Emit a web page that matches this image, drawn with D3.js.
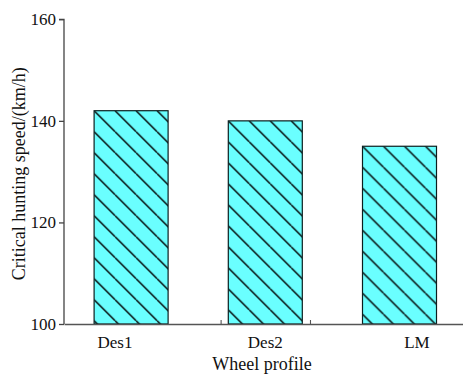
<!DOCTYPE html>
<html>
<head>
<meta charset="utf-8">
<script src="https://cdn.jsdelivr.net/npm/d3@7"></script>
<style>
  html, body { margin: 0; padding: 0; background: #fff; }
  svg { display: block; }
</style>
</head>
<body>
<svg id="chart" width="463" height="374"></svg>
<script>
// Wheel profiles and their critical hunting speed (km/h)
const profiles = ["Des1", "Des2", "LM"];
const speeds = [142, 140, 135];
// category axis: profile slots 1..3, label anchors and tick marks
const slots = [1, 2, 3];
const labelAnchors = [0.88, 2.0, 3.13];
const xTickValues = [1.667, 2.333];
const yTickValues = [100, 120, 140, 160];

(function () {
  const FONT = "'Liberation Serif', 'Times New Roman', serif";
  const svg = d3.select("#chart");
  const plotL = 64, plotR = 466.6, plotT = 19.3, plotB = 324;

  const x = d3.scaleLinear().domain([0.5, 3.5]).range([plotL, plotR]);
  const y = d3.scaleLinear().domain([100, 160]).range([plotB, plotT]);
  const barW = 74;

  const defs = svg.append("defs");
  const step = 21;

  const data = profiles.map((p, i) => ({ name: p, value: speeds[i], slot: slots[i], label: labelAnchors[i] }));

  // one hatch pattern per bar, anchored at the bar's top-left corner
  data.forEach((d, i) => {
    const bx = x(d.slot) - barW / 2, by = y(d.value);
    const pat = defs.append("pattern")
      .attr("id", "hatch" + i)
      .attr("patternUnits", "userSpaceOnUse")
      .attr("width", step).attr("height", step)
      .attr("patternTransform", `translate(${bx},${by})`);
    pat.append("rect").attr("width", step).attr("height", step).attr("fill", "#6affff");
    [[0, 0, step, step], [-step, 0, 0, step], [0, -step, step, 0]].forEach(([x1, y1, x2, y2]) => {
      pat.append("line")
        .attr("x1", x1).attr("y1", y1).attr("x2", x2).attr("y2", y2)
        .attr("stroke", "#000").attr("stroke-width", 1.4);
    });
  });

  // bars
  svg.append("g").selectAll("rect").data(data).join("rect")
    .attr("x", d => x(d.slot) - barW / 2)
    .attr("y", d => y(d.value))
    .attr("width", barW)
    .attr("height", d => y(100) - y(d.value))
    .attr("fill", (d, i) => `url(#hatch${i})`)
    .attr("stroke", "#0b1f1f")
    .attr("stroke-width", 1.2);

  // y axis
  const yAxis = d3.axisLeft(y).tickValues(yTickValues).tickSize(5).tickPadding(3).tickFormat(d3.format("d"));
  const gy = svg.append("g").attr("transform", `translate(${plotL},0)`).call(yAxis);
  gy.select(".domain").attr("d", `M-5,${plotT}H0V${plotB}`).attr("stroke", "#444").attr("stroke-width", 1.3);
  gy.selectAll(".tick line").attr("stroke", "#444").attr("stroke-width", 1.3);
  gy.selectAll(".tick text").style("font-size", "17px").style("font-family", FONT).attr("fill", "#111");

  // x axis: baseline with small upward ticks
  const xAxis = d3.axisBottom(x).tickValues(xTickValues).tickSizeInner(-4).tickSizeOuter(0).tickFormat("");
  const gx = svg.append("g").attr("transform", `translate(0,${plotB})`).call(xAxis);
  gx.select(".domain").attr("stroke", "#555").attr("stroke-width", 1.3);
  gx.selectAll(".tick line").attr("stroke", "#555").attr("stroke-width", 1.1);

  // category labels
  svg.append("g").selectAll("text").data(data).join("text")
    .attr("x", d => x(d.label))
    .attr("y", 348)
    .attr("text-anchor", "middle")
    .attr("fill", "#111")
    .style("font-family", FONT)
    .style("font-size", "17px")
    .text(d => d.name);

  // axis titles
  svg.append("text")
    .attr("x", 262).attr("y", 369.5)
    .attr("text-anchor", "middle")
    .attr("fill", "#111")
    .style("font-family", FONT)
    .style("font-size", "18px")
    .text("Wheel profile");

  svg.append("text")
    .attr("transform", `translate(24.5,${(plotT + plotB) / 2 + 2}) rotate(-90)`)
    .attr("text-anchor", "middle")
    .attr("fill", "#111")
    .style("font-family", FONT)
    .style("font-size", "18px")
    .text("Critical hunting speed/(km/h)");
})();
</script>
</body>
</html>
